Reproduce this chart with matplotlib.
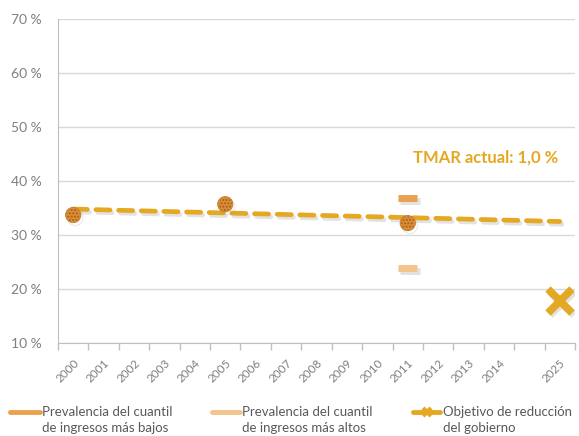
import matplotlib
matplotlib.use("Agg")
import matplotlib.pyplot as plt
import matplotlib.patheffects as pe
from matplotlib.lines import Line2D
import numpy as np

plt.rcParams['font.family'] = ['Lato', 'DejaVu Sans']

# ---- data ----
categories = ['2000', '2001', '2002', '2003', '2004', '2005', '2006', '2007',
              '2008', '2009', '2010', '2011', '2012', '2013', '2014', '', '2025']
national_years = ['2000', '2005', '2011']
national_values = [33.7, 35.7, 32.2]
lowest_years = ['2011']
lowest_values = [36.9]
highest_years = ['2011']
highest_values = [23.9]
target_years = ['2025']
target_values = [17.8]
trend_years = ['2000', '2025']
trend_values = [34.8, 32.5]
y_ticks = [10, 20, 30, 40, 50, 60, 70]
tmar_text = 'TMAR actual: 1,0 %'
legend_labels = ['Prevalencia del cuantil\nde ingresos más bajos',
                 'Prevalencia del cuantil\nde ingresos más altos',
                 'Objetivo de reducción\ndel gobierno']

def pos(yrs):
    return [categories.index(y) for y in yrs]

# ---- colors ----
c_low = '#E8A24F'
c_high = '#F3C48C'
c_gold = '#E5A823'
c_nat = '#E08E33'
grid_c = '#D9D9D9'
txt_c = '#7F7F7F'

W, H = 579, 436
fig = plt.figure(figsize=(W/100, H/100), dpi=100)
ax = fig.add_axes([58/W, 1-343/H, (575-58)/W, (343-19)/H])

shadow = [pe.SimpleLineShadow(offset=(1.5, -2), shadow_color='#8F8F8F', alpha=0.25), pe.Normal()]

# trend (dashed)
ax.plot(pos(trend_years), trend_values, color=c_gold, lw=3.4,
        dashes=(3.0, 1.8), solid_capstyle='round', dash_capstyle='round',
        path_effects=shadow, zorder=4)

# national circles
ax.plot(pos(national_years), national_values, ls='none', marker='o', ms=11,
        mfc=c_nat, mec='#C07A30', mew=0.6, path_effects=shadow, zorder=5)
ax.scatter(pos(national_years), national_values, s=90, facecolor='none',
           edgecolor='#9A5F25', linewidth=0, hatch='.....', zorder=6)

# 2011 quintile markers
ax.plot(pos(lowest_years), lowest_values, ls='none', marker='_', ms=14, mew=5,
        color=c_low, path_effects=shadow, zorder=5)
ax.plot(pos(highest_years), highest_values, ls='none', marker='_', ms=14, mew=5,
        color=c_high, path_effects=shadow, zorder=5)

# target X
ax.plot(pos(target_years), target_values, ls='none', marker='x', ms=17, mew=5.5,
        color=c_gold, path_effects=shadow, zorder=5)

ax.text(15.95, 44.4, tmar_text, color=c_gold, fontsize=12, fontweight='bold',
        ha='right', va='center')

# axes styling
ax.set_xlim(-0.5, len(categories) - 0.5)
ax.set_ylim(10, 70)
ax.set_yticks(y_ticks)
ax.set_yticklabels([f'{v} %' for v in y_ticks], fontsize=10, color=txt_c)
ax.yaxis.grid(True, color=grid_c, lw=1)
ax.set_axisbelow(True)
ax.tick_params(axis='y', length=0, pad=12)

ax.set_xticks(np.arange(len(categories)))
ax.set_xticklabels(categories, rotation=45, ha='right', va='top',
                   rotation_mode='anchor', fontsize=8.5, color=txt_c)
ax.tick_params(axis='x', which='major', length=0, pad=10)
ax.set_xticks(np.arange(len(categories) + 1) - 0.5, minor=True)
ax.tick_params(axis='x', which='minor', length=5, color='#BFBFBF', width=1)

for s in ['top', 'right']:
    ax.spines[s].set_visible(False)
ax.spines['left'].set_color('#BFBFBF')
ax.spines['bottom'].set_color('#BFBFBF')

# ---- legend (manual, below plot) ----
leg_colors = [c_low, c_high, c_gold]
leg_x = [(10, 40, 42), (212, 240, 242), (413, 440, 443)]
for (x0, x1, xt), col, lab, i in zip(leg_x, leg_colors, legend_labels, range(3)):
    yl = 1 - 412/H
    fig.add_artist(Line2D([x0/W, x1/W], [yl, yl], color=col, lw=3.5,
                          solid_capstyle='round', transform=fig.transFigure))
    if i == 2:
        fig.add_artist(Line2D([(x0 + x1)/2/W], [yl], color=col, marker='x', ms=6, mew=3,
                              transform=fig.transFigure))
    fig.text(xt/W, 1 - 406/H, lab, fontsize=9.5, color='#595959',
             ha='left', va='top', linespacing=1.35)

fig.savefig('out.png', dpi=100)
